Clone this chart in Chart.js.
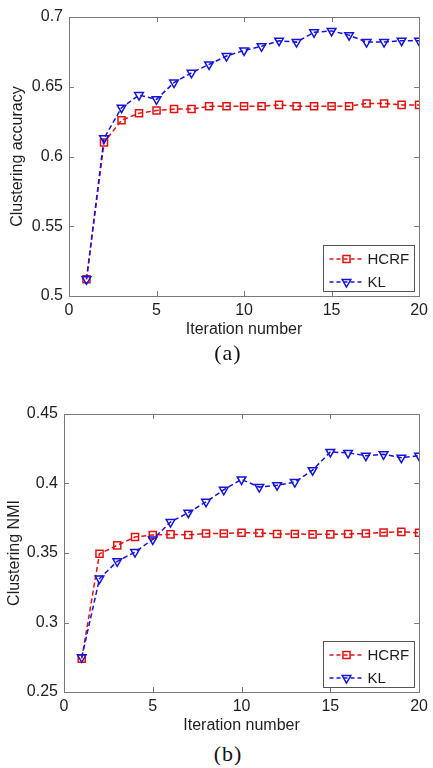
<!DOCTYPE html>
<html>
<head>
<meta charset="utf-8">
<script src="https://cdn.jsdelivr.net/npm/chart.js@4/dist/chart.umd.min.js"></script>
<style>
  html, body { margin: 0; padding: 0; background: #fff; width: 433px; height: 768px; overflow: hidden; }
  .wrap { position: absolute; left: 0; width: 433px; }
  .cap { position: absolute; width: 120px; margin-left: -60px; text-align: center;
         font-family: "Liberation Serif", "Times New Roman", serif; font-size: 22px; color: #111;
         letter-spacing: 1px; line-height: 26px; }
</style>
</head>
<body>
<div class="wrap" style="top:0;height:345px"><canvas id="cA" width="433" height="345"></canvas></div>
<div class="cap" style="left:228px;top:340px">(a)</div>
<div class="wrap" style="top:390px;height:345px"><canvas id="cB" width="433" height="345"></canvas></div>
<div class="cap" style="left:228px;top:741px">(b)</div>
<script>
// ---- data ----
const iterations = [1,2,3,4,5,6,7,8,9,10,11,12,13,14,15,16,17,18,19,20];
const hcrfAccuracy = [0.512,0.610,0.626,0.631,0.633,0.634,0.634,0.636,0.636,0.636,0.636,0.637,0.636,0.636,0.636,0.636,0.638,0.638,0.637,0.637];
const klAccuracy   = [0.512,0.613,0.635,0.644,0.641,0.653,0.660,0.666,0.672,0.676,0.679,0.683,0.682,0.689,0.690,0.687,0.682,0.682,0.683,0.683];
const hcrfNMI = [0.274,0.3495,0.3555,0.3615,0.363,0.3634,0.363,0.364,0.364,0.3646,0.3644,0.3637,0.3637,0.3634,0.3634,0.3637,0.364,0.3648,0.3652,0.3646];
const klNMI   = [0.275,0.3316,0.344,0.3507,0.3598,0.3723,0.379,0.3868,0.3955,0.4029,0.3974,0.3988,0.401,0.4096,0.4227,0.422,0.420,0.421,0.4186,0.420];
const xTicks = [0,5,10,15,20];
const yTicksAccuracy = [0.5,0.55,0.6,0.65,0.7];
const yTicksNMI = [0.25,0.3,0.35,0.4,0.45];
const seriesNames = ['HCRF','KL'];

const RED = '#e31010';
const BLUE = '#1414d8';
const AXIS = '#7a7a7a';
const TEXT = '#1e1e1e';
const FONT = '"Liberation Sans", Arial, sans-serif';

const pts = (arr) => iterations.map((x, i) => ({x, y: arr[i]}));

const boxPlugin = {
  id: 'matlabBox',
  afterDraw(chart) {
    const {ctx, chartArea: a, scales} = chart;
    ctx.save();
    ctx.strokeStyle = AXIS;
    ctx.lineWidth = 1;
    ctx.setLineDash([]);
    ctx.strokeRect(Math.round(a.left) + 0.5, Math.round(a.top) + 0.5, Math.round(a.right - a.left), Math.round(a.bottom - a.top));
    const tl = 5;
    ctx.beginPath();
    scales.x.ticks.forEach(t => {
      const px = Math.round(scales.x.getPixelForValue(t.value)) + 0.5;
      ctx.moveTo(px, a.bottom); ctx.lineTo(px, a.bottom - tl);
      ctx.moveTo(px, a.top); ctx.lineTo(px, a.top + tl);
    });
    scales.y.ticks.forEach(t => {
      const py = Math.round(scales.y.getPixelForValue(t.value)) + 0.5;
      ctx.moveTo(a.left, py); ctx.lineTo(a.left + tl, py);
      ctx.moveTo(a.right, py); ctx.lineTo(a.right - tl, py);
    });
    ctx.stroke();

    // legend box
    const bl = Math.round(a.right - 96) + 0.5, bt = Math.round(a.bottom - 51) + 0.5, bw = 91, bh = 46;
    ctx.fillStyle = '#fff';
    ctx.fillRect(bl, bt, bw, bh);
    ctx.strokeStyle = '#555';
    ctx.strokeRect(bl, bt, bw, bh);
    const ds = chart.data.datasets;
    const rows = [ds.find(d => d.label === seriesNames[0]), ds.find(d => d.label === seriesNames[1])];
    rows.forEach((d, i) => {
      const cy = bt + 13.5 + i * 23;
      ctx.strokeStyle = d.borderColor;
      ctx.lineWidth = 1.5;
      ctx.setLineDash([4, 3]);
      ctx.beginPath(); ctx.moveTo(bl + 6, cy); ctx.lineTo(bl + 38, cy); ctx.stroke();
      ctx.setLineDash([]);
      ctx.fillStyle = 'rgba(0,0,0,0)';
      Chart.helpers.drawPoint(ctx, {pointStyle: d.pointStyle, rotation: d.pointRotation || 0, radius: d.pointRadius, borderWidth: 1.5}, bl + 23, cy);
      ctx.fillStyle = TEXT;
      ctx.font = '15px ' + FONT;
      ctx.textBaseline = 'middle';
      ctx.textAlign = 'left';
      ctx.fillText(d.label, bl + 44, cy + 1);
    });
    ctx.restore();
  }
};

function makeChart(id, hcrf, kl, yTicks, yTitle, geo) {
  const fmt = v => String(+Number(v).toFixed(2));
  return new Chart(document.getElementById(id), {
    type: 'line',
    data: {
      datasets: [
        { label: seriesNames[0], data: pts(hcrf), borderColor: RED, backgroundColor: 'rgba(0,0,0,0)',
          borderWidth: 1.5, borderDash: [5, 3], pointStyle: 'rect', pointRadius: 5,
          pointBorderWidth: 1.5, pointBorderColor: RED, pointBackgroundColor: 'rgba(0,0,0,0)', order: 1, tension: 0 },
        { label: seriesNames[1], data: pts(kl), borderColor: BLUE, backgroundColor: 'rgba(0,0,0,0)',
          borderWidth: 1.5, borderDash: [5, 3], pointStyle: 'triangle', pointRotation: 180, pointRadius: 5,
          pointBorderWidth: 1.5, pointBorderColor: BLUE, pointBackgroundColor: 'rgba(0,0,0,0)', order: 0, tension: 0 }
      ]
    },
    options: {
      responsive: false, animation: false, devicePixelRatio: 1,
      layout: { padding: { top: geo.top, right: geo.right, left: 0, bottom: 0 } },
      plugins: { legend: { display: false }, tooltip: { enabled: false } },
      scales: {
        x: {
          type: 'linear', min: 0, max: 20,
          afterBuildTicks: s => { s.ticks = xTicks.map(v => ({value: v})); },
          afterFit: s => { s.height = geo.xh; },
          grid: { display: false, drawTicks: false },
          border: { display: false },
          ticks: { padding: geo.xpad, color: TEXT, font: { family: FONT, size: 16 }, maxRotation: 0, callback: v => String(v) },
          title: { display: true, text: 'Iteration number', color: TEXT, font: { family: FONT, size: 16 }, padding: { top: 0, bottom: geo.xtp } }
        },
        y: {
          type: 'linear', min: yTicks[0], max: yTicks[yTicks.length - 1],
          afterBuildTicks: s => { s.ticks = yTicks.map(v => ({value: v})); },
          afterFit: s => { s.width = geo.left; },
          grid: { display: false, drawTicks: false },
          border: { display: false },
          ticks: { padding: 6, color: TEXT, font: { family: FONT, size: 16 }, callback: fmt },
          title: { display: true, text: yTitle, color: TEXT, font: { family: FONT, size: 16 }, padding: { top: geo.ytp, bottom: 0 } }
        }
      }
    },
    plugins: [boxPlugin]
  });
}

makeChart('cA', hcrfAccuracy, klAccuracy, yTicksAccuracy, 'Clustering accuracy',
  { top: 17, right: 10, left: 69, xh: 49, xpad: 5, xtp: 6, ytp: 8 });
makeChart('cB', hcrfNMI, klNMI, yTicksNMI, 'Clustering NMI',
  { top: 24, right: 13, left: 64, xh: 43, xpad: 5, xtp: 0, ytp: 5 });
</script>
</body>
</html>
